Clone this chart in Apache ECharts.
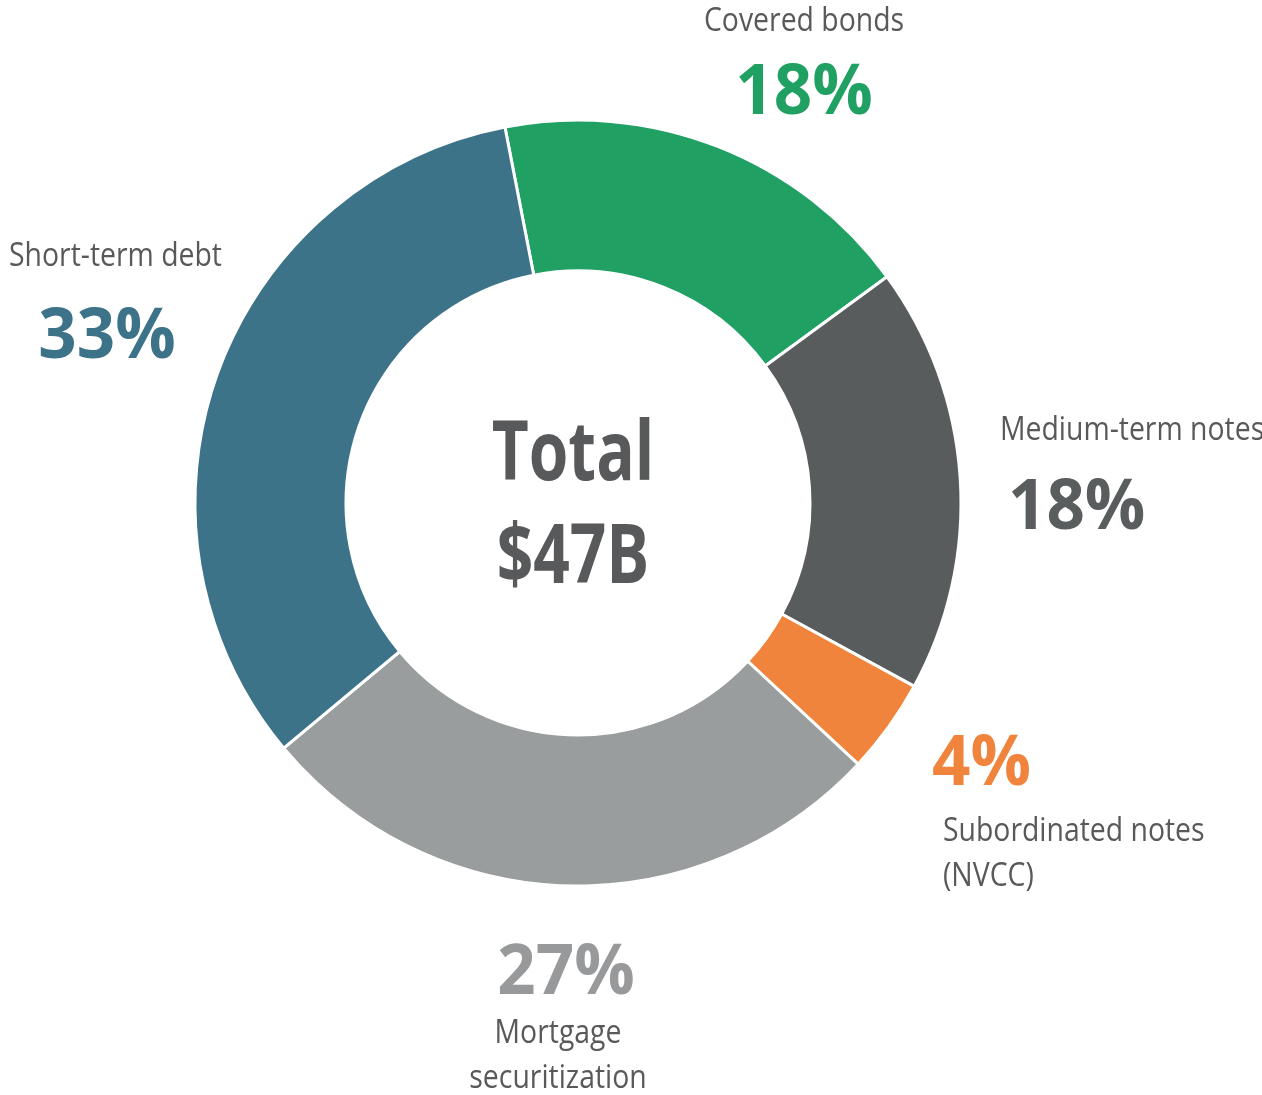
<!DOCTYPE html>
<html>
<head>
<meta charset="utf-8">
<script src="https://cdn.jsdelivr.net/npm/echarts@6/dist/echarts.min.js"></script>
<style>
  html, body { margin: 0; padding: 0; background: #fff; }
  #main { width: 1262px; height: 1095px; }
</style>
</head>
<body>
<div id="main"></div>
<script>
// data
var categories = ['Covered bonds', 'Medium-term notes', 'Subordinated notes\n(NVCC)', 'Mortgage\nsecuritization', 'Short-term debt'];
var shares = [18, 18, 4, 27, 33];
var sliceColors = ['#21a063', '#585c5d', '#f0843c', '#9a9d9d', '#3d7388'];
var pctColors = ['#21a063', '#5a5d5e', '#f0843c', '#98999b', '#3d7388'];
var totalLines = ['Total', '$47B'];

// where each label sits (name line middle / percent middle)
var labelPos = [
    { nx: 804, ny: 22, na: 'center', px: 804, py: 94, pa: 'center' },
    { nx: 1000, ny: 431, na: 'left', px: 1008, py: 509, pa: 'left' },
    { nx: 943, ny: 832, na: 'left', px: 932, py: 765, pa: 'left' },
    { nx: 558, ny: 1034, na: 'center', px: 566, py: 974, pa: 'center' },
    { nx: 9, ny: 257, na: 'left', px: 107, py: 338, pa: 'center' }
];

var nameFont = '33px "Open Sans"';
var pctFont = 'bold 70px "Open Sans"';
var nameScale = 0.86;
var pctScale = 0.96;

var myChart = echarts.init(document.getElementById('main'));

var pieData = categories.map(function (c, i) {
    return { name: c, value: shares[i], itemStyle: { color: sliceColors[i] } };
});

var graphics = [];
categories.forEach(function (c, i) {
    var p = labelPos[i];
    c.split('\n').forEach(function (line, k) {
        graphics.push({
            type: 'text', x: p.nx, y: p.ny + k * 45, scaleX: nameScale, silent: true,
            style: { text: line, font: nameFont, fill: '#595959', align: p.na, verticalAlign: 'middle' }
        });
    });
    graphics.push({
        type: 'text', x: p.px, y: p.py, scaleX: pctScale, silent: true,
        style: { text: shares[i] + '%', font: pctFont, fill: pctColors[i], align: p.pa, verticalAlign: 'middle' }
    });
});
// centre text
totalLines.forEach(function (t, k) {
    graphics.push({
        type: 'text', x: 573, y: 457 + k * 103, scaleX: 0.78, silent: true,
        style: { text: t, font: 'bold 82px "Open Sans"', fill: '#58595b', align: 'center', verticalAlign: 'middle' }
    });
});

var option = {
    animation: false,
    graphic: graphics,
    series: [
        {
            type: 'pie',
            center: [578, 503],
            radius: [232, 383],
            startAngle: 101,
            silent: true,
            label: { show: false },
            labelLine: { show: false },
            itemStyle: { borderColor: '#fff', borderWidth: 3 },
            data: pieData
        }
    ]
};
myChart.setOption(option);
</script>
</body>
</html>
